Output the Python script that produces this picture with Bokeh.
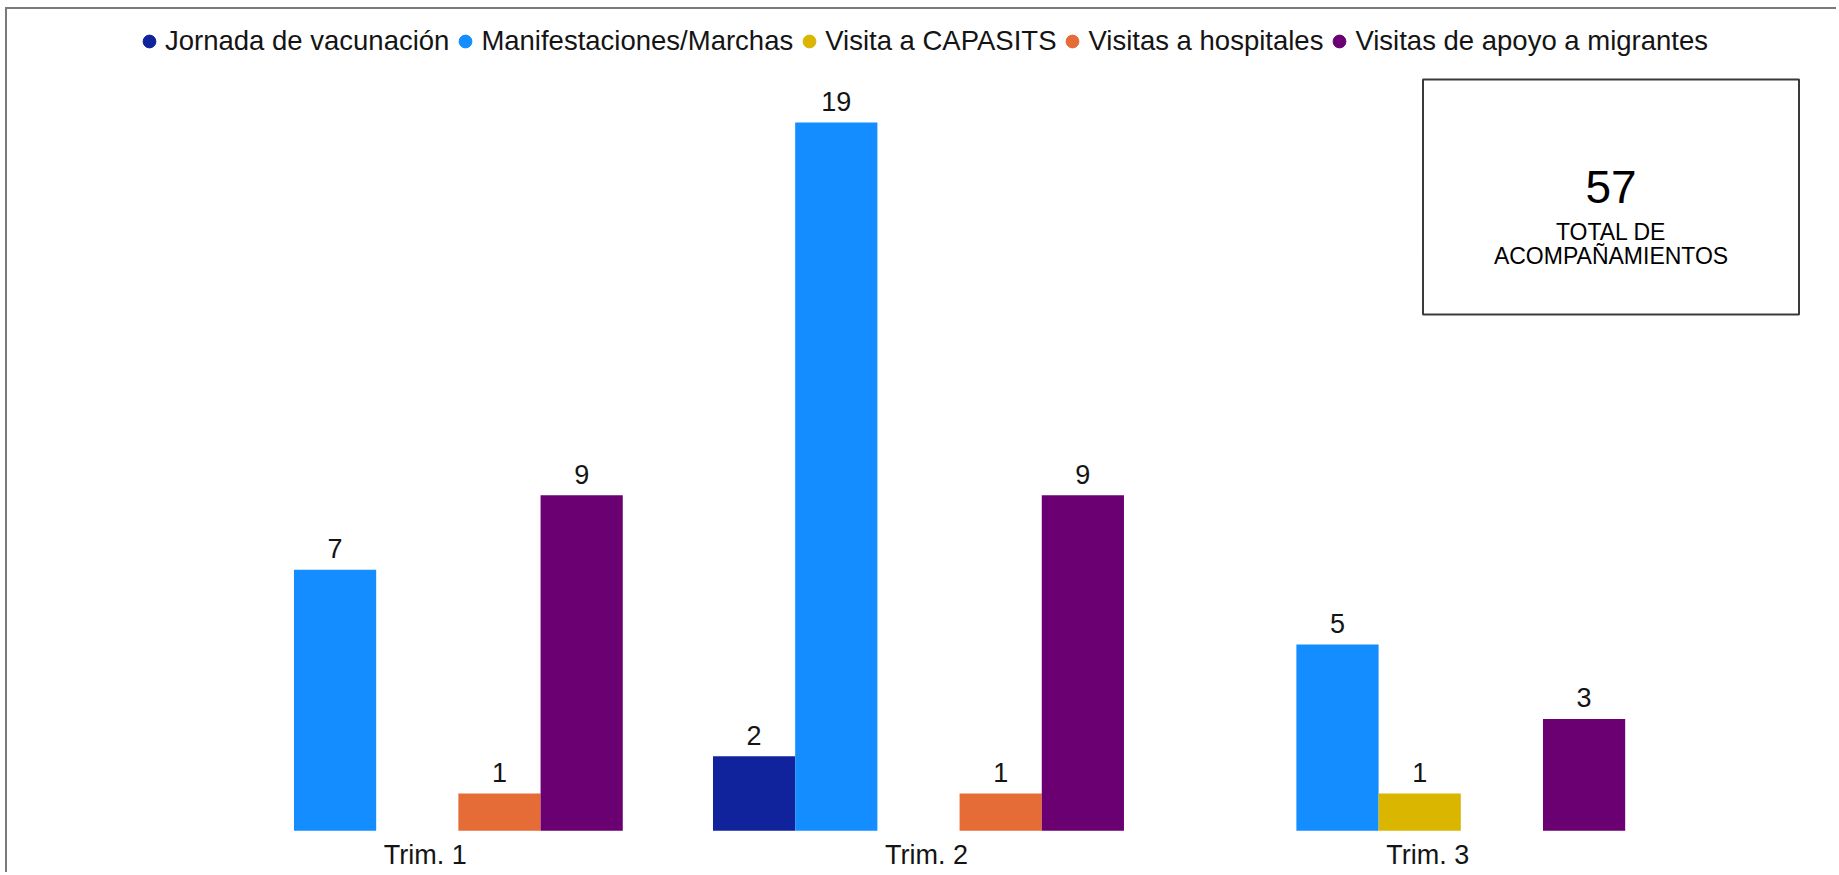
from bokeh.plotting import figure
from bokeh.models import (FactorRange, Range1d, Legend, LegendItem, BoxAnnotation,
                          Label, ColumnDataSource)
from bokeh.transform import dodge
from bokeh.core.properties import value
from bokeh.embed import file_html
from bokeh.resources import INLINE

# ---- data ----
trims = ["Trim. 1", "Trim. 2", "Trim. 3"]
series = ["Jornada de vacunación", "Manifestaciones/Marchas", "Visita a CAPASITS",
          "Visitas a hospitales", "Visitas de apoyo a migrantes"]
jornada = [0, 2, 0]
manifestaciones = [7, 19, 5]
capasits = [0, 0, 1]
hospitales = [1, 1, 0]
migrantes = [9, 9, 3]
colors = ["#10239c", "#138dff", "#dab600", "#e56b37", "#6a0072"]
values_by_series = [jornada, manifestaciones, capasits, hospitales, migrantes]
total = sum(sum(v) for v in values_by_series)
total_caption_1 = "TOTAL DE"
total_caption_2 = "ACOMPAÑAMIENTOS"

FONT = "Liberation Sans"
TXT = "#141414"

p = figure(
    x_range=FactorRange(factors=trims, range_padding=0.3196, range_padding_units="absolute"),
    y_range=Range1d(-1.172, 22.03),
    width=1831, height=865,
    output_backend="svg", toolbar_location=None,
    y_axis_location=None,
    min_border_left=7, min_border_right=0, min_border_top=0, min_border_bottom=0,
)
p.styles = {"margin-left": "5px", "margin-top": "7px",
            "border-top": "2px solid #7a7a7a", "border-left": "2px solid #7a7a7a"}
p.outline_line_color = None
p.xgrid.visible = False
p.ygrid.visible = False
xa = p.xaxis[0]
xa.fixed_location = 0
xa.axis_line_color = None
xa.major_tick_line_color = None
xa.minor_tick_line_color = None
xa.major_tick_out = 0
xa.major_tick_in = 0
xa.major_label_standoff = 9
xa.major_label_text_font = FONT
xa.major_label_text_font_size = "27px"
xa.major_label_text_color = TXT

slot = 0.164
shift = -0.016
items = []
for i, (name, vals, col) in enumerate(zip(series, values_by_series, colors)):
    xs = [t for t, v in zip(trims, vals) if v > 0]
    ys = [v for v in vals if v > 0]
    src = ColumnDataSource(dict(trim=xs, value=ys, label=[str(v) for v in ys]))
    off = shift + (i - 2) * slot
    p.vbar(x=dodge("trim", off, range=p.x_range), top="value", width=slot,
           source=src, fill_color=col, line_color=None)
    p.text(x=dodge("trim", off, range=p.x_range), y="value", text="label", source=src,
           text_align="center", text_baseline="middle", y_offset=-21,
           text_font=value(FONT), text_font_size="27px", text_color=TXT)
    # legend-only marker: no drawable position, only its colour is used by the legend
    r = p.scatter(x=[xs[0]], y=[float("nan")], marker="circle",
                  fill_color=col, line_color=col)
    items.append(LegendItem(label=name, renderers=[r]))

legend = Legend(items=items, orientation="horizontal", location=(119, 817),
                margin=0, padding=0, spacing=0, label_standoff=0,
                glyph_width=32, glyph_height=32, label_height=32,
                label_text_font=FONT, label_text_font_size="27.5px", label_text_color=TXT,
                border_line_color=None, background_fill_alpha=0)
p.add_layout(legend)

box = BoxAnnotation(left=2.4906, right=3.2408, bottom=13.85, top=20.153,
                    fill_color=None, fill_alpha=0, line_color="#3a3a3a", line_alpha=1.0,
                    line_width=2)
p.add_layout(box)
p.add_layout(Label(x=2.8658, y=17.256, text=str(total), text_align="center",
                   text_baseline="middle", text_font=FONT, text_font_size="46px",
                   text_color="#000000"))
p.add_layout(Label(x=2.8658, y=16.05, text=total_caption_1, text_align="center",
                   text_baseline="middle", text_font=FONT, text_font_size="23px",
                   text_color="#000000"))
p.add_layout(Label(x=2.8658, y=15.43, text=total_caption_2, text_align="center",
                   text_baseline="middle", text_font=FONT, text_font_size="23px",
                   text_color="#000000"))

open("out.html", "w").write(file_html(p, INLINE))
